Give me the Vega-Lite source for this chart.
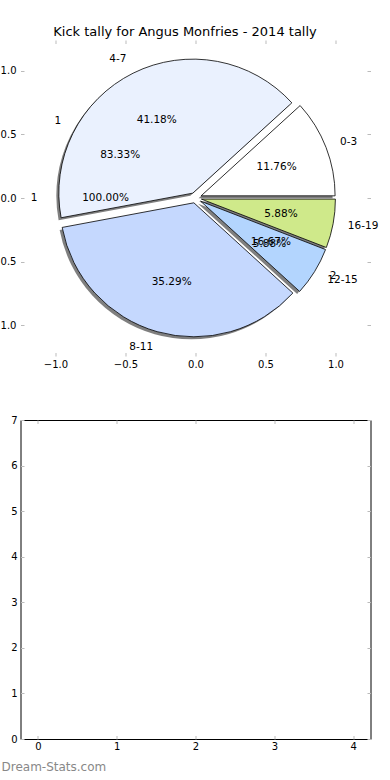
{
  "$schema": "https://vega.github.io/schema/vega-lite/v6.json",
  "padding": {"left": -8.5, "top": 25, "right": 0, "bottom": 0},
  "title": {"text": "Kick tally for Angus Monfries - 2014 tally", "fontSize": 13, "fontWeight": "normal", "color": "#000000", "offset": 1, "anchor": "middle"},
  "config": {
    "font": "DejaVu Sans",
    "view": {"stroke": "#000000", "strokeWidth": 1},
    "axis": {"grid": false, "domain": false, "ticks": true, "tickColor": "#bbbbbb", "tickSize": -3.5, "tickWidth": 1, "labelFontSize": 10, "labelColor": "#000000", "labelPadding": 5, "labelFlush": false, "labelOverlap": false}
  },
  "spacing": 64,
  "bounds": "flush",
  "vconcat": [
    {
      "width": 350,
      "height": 316,
      "view": {"stroke": null},
      "resolve": {"scale": {"theta": "independent"}, "axis": {"x": "independent", "y": "independent"}},
      "layer": [
        {
          "data": {"values": [
            {"cat": "0-3", "v": 2, "pct": "11.76%", "i": 0},
            {"cat": "4-7", "v": 7, "pct": "41.18%", "i": 1},
            {"cat": "8-11", "v": 6, "pct": "35.29%", "i": 2},
            {"cat": "12-15", "v": 1, "pct": "5.88%", "i": 3},
            {"cat": "16-19", "v": 1, "pct": "5.88%", "i": 4}
          ]},
          "transform": [{"stack": "v", "groupby": [], "sort": [{"field": "i", "order": "ascending"}], "as": ["v0", "v1"]}],
          "encoding": {
            "theta": {"field": "v0", "type": "quantitative", "scale": {"domain": [0, 17], "range": [1.5707963, -4.712389]}},
            "theta2": {"field": "v1"}
          },
          "layer": [
            {"transform": [{"filter": "datum.i == 0"}], "mark": {"type": "arc", "radius": 134, "xOffset": 3.1, "yOffset": 0.33, "fill": "#000000", "opacity": 0.5}},
            {"transform": [{"filter": "datum.i == 1"}], "mark": {"type": "arc", "radius": 134, "xOffset": -5.17, "yOffset": -2.37, "fill": "#000000", "opacity": 0.5}},
            {"transform": [{"filter": "datum.i == 2"}], "mark": {"type": "arc", "radius": 134, "xOffset": -4.14, "yOffset": 7.3, "fill": "#000000", "opacity": 0.5}},
            {"transform": [{"filter": "datum.i == 3"}], "mark": {"type": "arc", "radius": 134, "xOffset": 2.6, "yOffset": 5.66, "fill": "#000000", "opacity": 0.5}},
            {"transform": [{"filter": "datum.i == 4"}], "mark": {"type": "arc", "radius": 134, "xOffset": 3.4, "yOffset": 3.6, "fill": "#000000", "opacity": 0.5}},
            {"transform": [{"filter": "datum.i == 0"}], "mark": {"type": "arc", "radius": 134, "xOffset": 5.6, "yOffset": -2.17, "fill": "#ffffff", "stroke": "#000000", "strokeWidth": 0.8}},
            {"transform": [{"filter": "datum.i == 1"}], "mark": {"type": "arc", "radius": 134, "xOffset": -2.67, "yOffset": -4.87, "fill": "#eaf1fe", "stroke": "#000000", "strokeWidth": 0.8}},
            {"transform": [{"filter": "datum.i == 2"}], "mark": {"type": "arc", "radius": 134, "xOffset": -1.64, "yOffset": 4.8, "fill": "#c5d8fe", "stroke": "#000000", "strokeWidth": 0.8}},
            {"transform": [{"filter": "datum.i == 3"}], "mark": {"type": "arc", "radius": 134, "xOffset": 5.1, "yOffset": 3.16, "fill": "#b3d5fe", "stroke": "#000000", "strokeWidth": 0.8}},
            {"transform": [{"filter": "datum.i == 4"}], "mark": {"type": "arc", "radius": 134, "xOffset": 5.9, "yOffset": 1.1, "fill": "#cfe98a", "stroke": "#000000", "strokeWidth": 0.8}},
            {
              "mark": {"type": "text", "radius": 155, "align": "right", "baseline": "middle", "fontSize": 10.5, "color": "#000000"},
              "encoding": {
                "theta": {"field": "v", "type": "quantitative", "stack": true, "scale": {"domain": [0, 17], "range": [1.5707963, -4.712389]}},
                "theta2": null,
                "order": {"field": "i", "type": "quantitative"},
                "text": {"condition": {"test": "datum.i == 1 || datum.i == 2", "field": "cat", "type": "nominal"}, "value": ""}
              }
            },
            {
              "mark": {"type": "text", "radius": 155, "align": "left", "baseline": "middle", "fontSize": 10.5, "color": "#000000"},
              "encoding": {
                "theta": {"field": "v", "type": "quantitative", "stack": true, "scale": {"domain": [0, 17], "range": [1.5707963, -4.712389]}},
                "theta2": null,
                "order": {"field": "i", "type": "quantitative"},
                "text": {"condition": {"test": "datum.i == 0 || datum.i == 3 || datum.i == 4", "field": "cat", "type": "nominal"}, "value": ""}
              }
            },
            {
              "mark": {"type": "text", "radius": 87, "align": "center", "baseline": "middle", "fontSize": 10.5, "color": "#000000"},
              "encoding": {
                "theta": {"field": "v", "type": "quantitative", "stack": true, "scale": {"domain": [0, 17], "range": [1.5707963, -4.712389]}},
                "theta2": null,
                "order": {"field": "i", "type": "quantitative"},
                "text": {"field": "pct", "type": "nominal"}
              }
            }
          ]
        },
        {
          "data": {"values": [
            {"cat": "1", "v": 5, "pct": "83.33%", "i": 0},
            {"cat": "2", "v": 1, "pct": "16.67%", "i": 1}
          ]},
          "encoding": {
            "theta": {"field": "v", "type": "quantitative", "stack": true, "scale": {"domain": [0, 6], "range": [1.5707963, -4.712389]}},
            "order": {"field": "i", "type": "quantitative"}
          },
          "layer": [
            {"mark": {"type": "text", "radius": 155, "align": "right", "baseline": "middle", "fontSize": 10.5, "color": "#000000"},
             "encoding": {"text": {"condition": {"test": "datum.i == 0", "field": "cat", "type": "nominal"}, "value": ""}}},
            {"mark": {"type": "text", "radius": 155, "align": "left", "baseline": "middle", "fontSize": 10.5, "color": "#000000"},
             "encoding": {"text": {"condition": {"test": "datum.i == 1", "field": "cat", "type": "nominal"}, "value": ""}}},
            {"mark": {"type": "text", "radius": 87, "align": "center", "baseline": "middle", "fontSize": 10.5, "color": "#000000"},
             "encoding": {"text": {"field": "pct", "type": "nominal"}}}
          ]
        },
        {
          "data": {"values": [
            {"cat": "1", "v": 1, "pct": "100.00%", "i": 0}
          ]},
          "encoding": {
            "theta": {"field": "v", "type": "quantitative", "stack": true, "scale": {"domain": [0, 1], "range": [1.5707963, -4.712389]}},
            "order": {"field": "i", "type": "quantitative"}
          },
          "layer": [
            {"mark": {"type": "text", "radius": 158, "align": "right", "baseline": "middle", "fontSize": 10.5, "color": "#000000"},
             "encoding": {"text": {"field": "cat", "type": "nominal"}}},
            {"mark": {"type": "text", "radius": 90, "align": "center", "baseline": "middle", "fontSize": 10.5, "color": "#000000"},
             "encoding": {"text": {"field": "pct", "type": "nominal"}}}
          ]
        },
        {
          "data": {"values": [{"o": 0}]},
          "mark": {"type": "point", "opacity": 0},
          "encoding": {
            "x": {"datum": 0, "type": "quantitative", "scale": {"domain": [-1.25, 1.25]}, "axis": {"orient": "bottom", "values": [-1, -0.5, 0, 0.5, 1], "format": ".1f", "labelPadding": 6.5, "title": null}},
            "y": {"datum": 0, "type": "quantitative", "scale": {"domain": [-1.24, 1.24]}, "axis": {"orient": "left", "values": [-1, -0.5, 0, 0.5, 1], "format": ".1f", "labelPadding": 8, "title": null}}
          }
        },
        {
          "data": {"values": [{"o": 0}]},
          "mark": {"type": "point", "opacity": 0},
          "encoding": {
            "x": {"datum": 0, "type": "quantitative", "scale": {"domain": [-1.25, 1.25]}, "axis": {"orient": "top", "values": [-1, -0.5, 0, 0.5, 1], "labels": false, "title": null}},
            "y": {"datum": 0, "type": "quantitative", "scale": {"domain": [-1.24, 1.24]}, "axis": {"orient": "right", "values": [-1, -0.5, 0, 0.5, 1], "labels": false, "title": null}}
          }
        }
      ]
    },
    {
      "width": 350,
      "height": 319,
      "resolve": {"axis": {"x": "independent", "y": "independent"}},
      "layer": [
        {
          "data": {"values": [{"o": 0}]},
          "mark": {"type": "point", "opacity": 0},
          "encoding": {
            "x": {"datum": 0, "type": "quantitative", "scale": {"domain": [-0.22, 4.22]}, "axis": {"orient": "bottom", "values": [0, 1, 2, 3, 4], "format": "d", "labelPadding": 6, "title": "Dream-Stats.com", "titleColor": "#888888", "titleFontSize": 12, "titleFontWeight": "normal", "titleAnchor": "start", "titleAlign": "left", "titleBaseline": "alphabetic", "titleX": -19.5, "titleY": 31}},
            "y": {"datum": 0, "type": "quantitative", "scale": {"domain": [0, 7]}, "axis": {"orient": "left", "values": [0, 1, 2, 3, 4, 5, 6, 7], "format": "d", "labelPadding": 7, "title": null}}
          }
        },
        {
          "data": {"values": [{"o": 0}]},
          "mark": {"type": "point", "opacity": 0},
          "encoding": {
            "x": {"datum": 0, "type": "quantitative", "scale": {"domain": [-0.22, 4.22]}, "axis": {"orient": "top", "values": [0, 1, 2, 3, 4], "labels": false, "title": null}},
            "y": {"datum": 0, "type": "quantitative", "scale": {"domain": [0, 7]}, "axis": {"orient": "right", "values": [0, 1, 2, 3, 4, 5, 6, 7], "labels": false, "title": null}}
          }
        }
      ]
    }
  ]
}
